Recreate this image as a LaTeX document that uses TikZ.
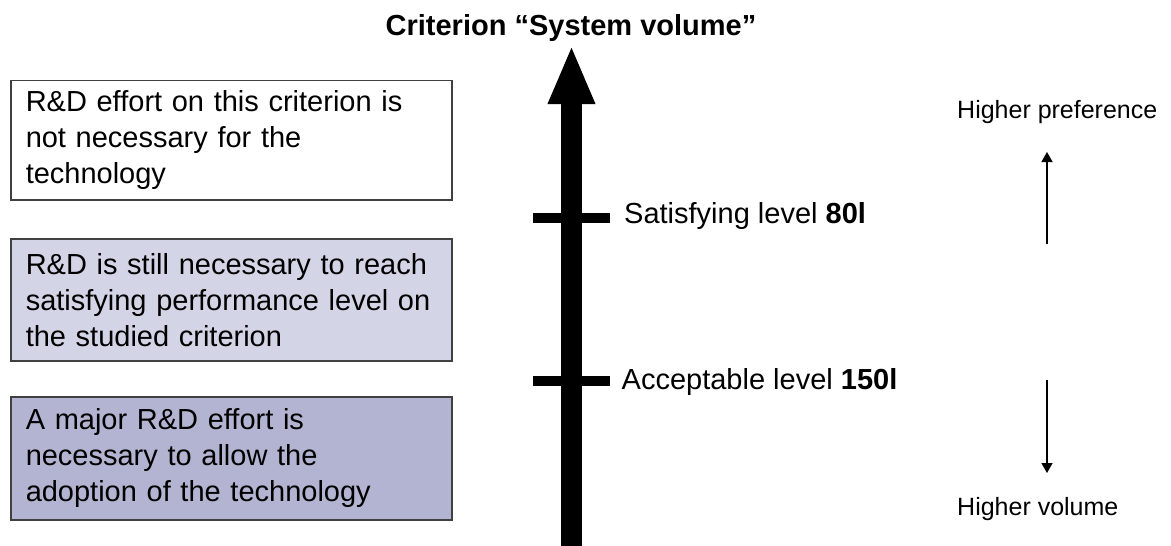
\documentclass[tikz,border=0pt]{standalone}
\usepackage{fontspec}
\setmainfont{Liberation Sans}
\usetikzlibrary{arrows.meta}
\definecolor{boxline}{HTML}{404040}
\definecolor{fillB}{HTML}{D3D5E6}
\definecolor{fillC}{HTML}{B3B4D1}
\tikzset{
  critbox/.style={draw=boxline, line width=1.5pt, rectangle, anchor=north west,
    minimum width=441pt, text width=411pt, inner xsep=15pt, inner ysep=0pt,
    align=left, font=\fontsize{29}{36}\selectfont},
  lvltxt/.style={anchor=base west, inner sep=0pt, font=\fontsize{29}{36}\selectfont},
  sidetxt/.style={anchor=base west, inner sep=0pt, font=\fontsize{25}{30}\selectfont},
  tick/.style={line width=9.5pt},
  thinarrow/.style={line width=1.4pt, -{Triangle[width=11pt,length=10pt]}}
}
\begin{document}
\begin{tikzpicture}[x=1pt,y=-1pt]
\useasboundingbox[fill=white] (0,0) rectangle (1171,546);
% title
\node[anchor=base, inner sep=0pt, font=\fontsize{29}{36}\selectfont\bfseries] (title) at (571,35) {Criterion “System volume”};
% boxes
\node[critbox, fill=white, minimum height=119.5pt] (b1) at (10,79.5) {R\&D effort on this criterion is\\ not necessary for the\\ technology};
\node[critbox, fill=fillB, minimum height=122pt] (b2) at (10,238) {R\&D is still necessary to reach\\ satisfying performance level on\\ the studied criterion};
\node[critbox, fill=fillC, minimum height=123pt] (b3) at (10,396) {A major R\&D effort is\\ necessary to allow the\\ adoption of the technology};
% main axis
\coordinate (axbot) at (571.5,560);
\coordinate (axtop) at (571.5,45);
\draw[line width=21pt, -{Triangle[width=43pt,length=59pt]}] (axbot) -- (axtop);
% ticks
\coordinate (t1a) at (533,218);
\coordinate (t1b) at (610,218);
\coordinate (t2a) at (533,381);
\coordinate (t2b) at (610,381);
\draw[tick] (t1a) -- (t1b);
\draw[tick] (t2a) -- (t2b);
\node[lvltxt] (sat) at (624,223) {Satisfying level \textbf{80l}};
\node[lvltxt] (acc) at (621.5,389) {Acceptable level \textbf{150l}};
% side labels
\node[sidetxt] (hp) at (957,118) {Higher preference};
\node[sidetxt] (hv) at (957,515) {Higher volume};
\coordinate (u1) at (1047,244);
\coordinate (u2) at (1047,152);
\coordinate (d1) at (1047,380);
\coordinate (d2) at (1047,473);
\draw[thinarrow] (u1) -- (u2);
\draw[thinarrow] (d1) -- (d2);
\end{tikzpicture}
\end{document}
